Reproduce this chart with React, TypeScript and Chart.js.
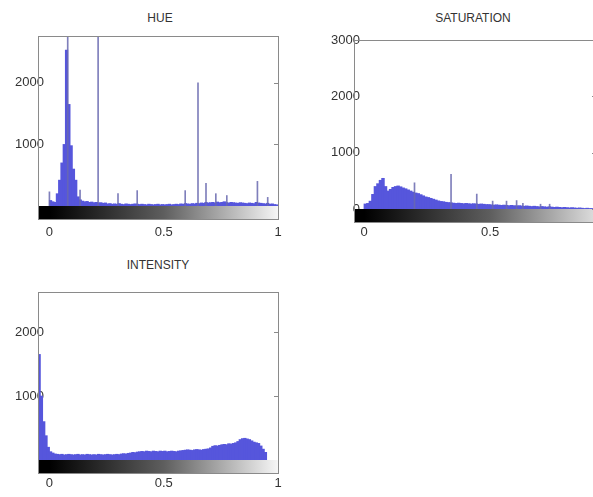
import React, { useEffect, useRef } from "react";
import { Chart, registerables } from "chart.js";

Chart.register(...registerables);

// ---------- DATA ----------
const BIN_WIDTH = 0.01;

// HUE histogram (bins of 0.01 starting at 0)
const HUE_BIN_START = 0;
const HUE_COUNTS = [
  90, 70, 60, 200, 420, 700, 1000, 2530, 1650, 980,
  600, 420, 150, 100, 80, 70, 75, 60, 65, 55,
  60, 50, 55, 45, 50, 35, 40, 30, 35, 30,
  40, 30, 25, 35, 30, 25, 30, 35, 30, 25,
  30, 25, 20, 30, 25, 20, 25, 30, 20, 25,
  20, 25, 30, 20, 25, 30, 25, 35, 30, 40,
  35, 30, 40, 35, 45, 40, 50, 45, 60, 50,
  55, 60, 50, 65, 55, 60, 70, 55, 50, 60,
  55, 50, 45, 55, 50, 45, 40, 50, 45, 40,
  60, 50, 45, 40, 35, 45, 30, 35, 25, 20,
];
const HUE_SPIKE_X = [0.0, 0.08, 0.134, 0.213, 0.3, 0.384, 0.594, 0.65, 0.685, 0.728, 0.776, 0.91, 0.955];
const HUE_SPIKE_Y = [230, 3500, 260, 3500, 200, 250, 250, 2000, 370, 200, 170, 400, 140];
const HUE_X_TICKS = [0, 0.5, 1];
const HUE_Y_TICKS = [1000, 2000];

// SATURATION histogram
const SAT_BIN_START = 0;
const SAT_COUNTS = [
  90, 100, 140, 260, 400, 450, 510, 545, 400, 320,
  350, 385, 400, 410, 395, 375, 360, 340, 320, 300,
  285, 275, 255, 235, 215, 205, 190, 175, 160, 145,
  135, 130, 120, 115, 110, 105, 100, 105, 100, 95,
  100, 95, 90, 95, 90, 85, 90, 85, 80, 80,
  75, 70, 75, 70, 65, 70, 65, 60, 65, 60,
  55, 60, 55, 50, 55, 50, 45, 50, 45, 40,
  45, 40, 35, 40, 35, 30, 35, 30, 25, 30,
  25, 20, 25, 20, 15, 20, 15, 10, 15, 10,
  10, 5,
];
const SAT_SPIKE_X = [0.2, 0.345, 0.447, 0.51, 0.565, 0.605, 0.63, 0.7, 0.736];
const SAT_SPIKE_Y = [465, 615, 265, 140, 140, 150, 100, 85, 85];
const SAT_X_TICKS = [0, 0.5];
const SAT_Y_TICKS = [0, 1000, 2000, 3000];

// INTENSITY histogram
const INT_BIN_START = -0.05;
const INT_COUNTS = [
  1650, 1000, 600, 380, 200, 130, 110,
  95, 90, 85, 90, 80, 85, 90, 85, 80, 85, 90, 80, 85, 80, 90, 85, 80, 85, 80, 90, 85, 80, 85, 90, 85, 80, 85, 90, 85,
  95, 100, 95, 105, 110, 120, 115,
  125, 130, 135, 130, 140, 135, 130, 140, 135, 130, 140, 135, 140, 130, 135, 140, 135, 130, 140, 145,
  150, 155, 160, 155, 150, 160, 165, 160, 155, 165, 170, 175, 190,
  215, 225, 220, 230, 240,
  245, 240, 255, 250, 260, 270, 290,
  320, 335, 340, 330, 320,
  300, 280, 270, 260,
  220, 170, 120,
];
const INT_SPIKE_X: number[] = [];
const INT_SPIKE_Y: number[] = [];
const INT_X_TICKS = [0, 0.5, 1];
const INT_Y_TICKS = [1000, 2000];

// ---------- STYLE / LAYOUT ----------
const FONT = "'Liberation Sans', Arial, sans-serif";
const BAR_COLOR = "#5656dc";
const SPIKE_COLOR = "rgba(105,105,175,0.85)";
const BOX_COLOR = "#8a8a8a";
const STRIP = 13;

type Panel = {
  title: string;
  counts: number[];
  binStart: number;
  spikeX: number[];
  spikeY: number[];
  xMin: number;
  xMax: number;
  yMax: number;
  xTicks: number[];
  yTicks: number[];
  left: number;
  top: number;
  width: number;
  height: number;
  padRight: number;
  labelPad: number;
  barPx: number;
  titleX: number;
  titleY: number;
};

const PANELS: Panel[] = [
  {
    title: "HUE",
    counts: HUE_COUNTS, binStart: HUE_BIN_START, spikeX: HUE_SPIKE_X, spikeY: HUE_SPIKE_Y,
    xMin: -0.05, xMax: 1, yMax: 2760, xTicks: HUE_X_TICKS, yTicks: HUE_Y_TICKS,
    left: 0, top: 26, width: 302, height: 220, padRight: 24, labelPad: 19, barPx: 2.6,
    titleX: 160, titleY: 18,
  },
  {
    title: "SATURATION",
    counts: SAT_COUNTS, binStart: SAT_BIN_START, spikeX: SAT_SPIKE_X, spikeY: SAT_SPIKE_Y,
    xMin: -0.04, xMax: 0.92, yMax: 3000, xTicks: SAT_X_TICKS, yTicks: SAT_Y_TICKS,
    left: 316, top: 30, width: 282, height: 219, padRight: 2, labelPad: 16, barPx: 2.8,
    titleX: 473, titleY: 18,
  },
  {
    title: "INTENSITY",
    counts: INT_COUNTS, binStart: INT_BIN_START, spikeX: INT_SPIKE_X, spikeY: INT_SPIKE_Y,
    xMin: -0.05, xMax: 1, yMax: 2625, xTicks: INT_X_TICKS, yTicks: INT_Y_TICKS,
    left: 0, top: 282, width: 299, height: 218, padRight: 21, labelPad: 16, barPx: 2.6,
    titleX: 158, titleY: 265,
  },
];

const boxPlugin = {
  id: "matlabBox",
  afterDraw(chart: any) {
    const { ctx, chartArea: a, scales } = chart;
    const x = scales.x;
    const y = scales.y;
    ctx.save();
    const g = ctx.createLinearGradient(x.getPixelForValue(0), 0, x.getPixelForValue(1), 0);
    g.addColorStop(0, "#000000");
    g.addColorStop(0.5, "#5e5e5e");
    g.addColorStop(1, "#f6f6f6");
    ctx.fillStyle = g;
    ctx.fillRect(a.left, a.bottom, a.right - a.left, STRIP);
    ctx.strokeStyle = BOX_COLOR;
    ctx.lineWidth = 1;
    ctx.strokeRect(Math.round(a.left) + 0.5, Math.round(a.top) + 0.5, Math.round(a.right - a.left), Math.round(a.bottom - a.top + STRIP));
    ctx.beginPath();
    for (const t of y.ticks) {
      const py = Math.round(y.getPixelForValue(t.value)) + 0.5;
      ctx.moveTo(a.right - 4, py);
      ctx.lineTo(a.right, py);
    }
    ctx.stroke();
    ctx.restore();
  },
};

function PanelChart({ p }: { p: Panel }) {
  const ref = useRef<HTMLCanvasElement | null>(null);
  useEffect(() => {
    if (!ref.current) return;
    const tickFont = { family: FONT, size: 13 };
    const chart = new Chart(ref.current, {
      type: "bar",
      data: {
        datasets: [
          {
            data: p.spikeX.map((v, i) => ({ x: v, y: p.spikeY[i] })),
            backgroundColor: SPIKE_COLOR,
            barThickness: 1,
            grouped: false,
            order: 1,
          } as any,
          {
            data: p.counts.map((v, i) => ({ x: p.binStart + (i + 0.5) * BIN_WIDTH, y: v })),
            backgroundColor: BAR_COLOR,
            barThickness: p.barPx,
            grouped: false,
            order: 2,
          } as any,
        ],
      },
      options: {
        responsive: false,
        animation: false,
        events: [],
        layout: { padding: { top: 10, right: p.padRight, left: 0, bottom: 0 } },
        plugins: { legend: { display: false }, tooltip: { enabled: false }, title: { display: false } },
        scales: {
          x: {
            type: "linear",
            min: p.xMin,
            max: p.xMax,
            offset: false,
            grid: { display: false, drawTicks: false },
            border: { display: false },
            ticks: {
              padding: p.labelPad,
              font: tickFont,
              color: "#333",
              autoSkip: false,
              maxRotation: 0,
              callback: (v: any) => String(v),
            },
            afterBuildTicks: (s: any) => {
              s.ticks = p.xTicks.map((v) => ({ value: v }));
            },
            afterFit: (s: any) => {
              s.height = 40;
            },
          },
          y: {
            type: "linear",
            min: 0,
            max: p.yMax,
            grid: { display: false, drawTicks: false },
            border: { display: false },
            ticks: {
              mirror: true,
              crossAlign: "far",
              padding: -23,
              font: tickFont,
              color: "#333",
              callback: (v: any) => String(v),
            },
            afterBuildTicks: (s: any) => {
              s.ticks = p.yTicks.map((v) => ({ value: v }));
            },
            afterFit: (s: any) => {
              s.width = 38;
            },
          },
        },
      } as any,
      plugins: [boxPlugin],
    });
    return () => chart.destroy();
  }, [p]);
  return (
    <canvas
      ref={ref}
      width={p.width}
      height={p.height}
      style={{ position: "absolute", left: p.left, top: p.top, width: p.width, height: p.height }}
    />
  );
}

export default function App() {
  return (
    <div
      style={{
        position: "fixed",
        left: 0,
        top: 0,
        width: 593,
        height: 497,
        overflow: "hidden",
        background: "#ffffff",
      }}
    >
      {PANELS.map((p) => (
        <React.Fragment key={p.title}>
          <PanelChart p={p} />
          <div
            style={{
              position: "absolute",
              left: p.titleX,
              top: p.titleY,
              transform: "translate(-50%, -50%)",
              fontFamily: FONT,
              fontSize: 12,
              color: "#333",
              whiteSpace: "nowrap",
            }}
          >
            {p.title}
          </div>
        </React.Fragment>
      ))}
    </div>
  );
}
